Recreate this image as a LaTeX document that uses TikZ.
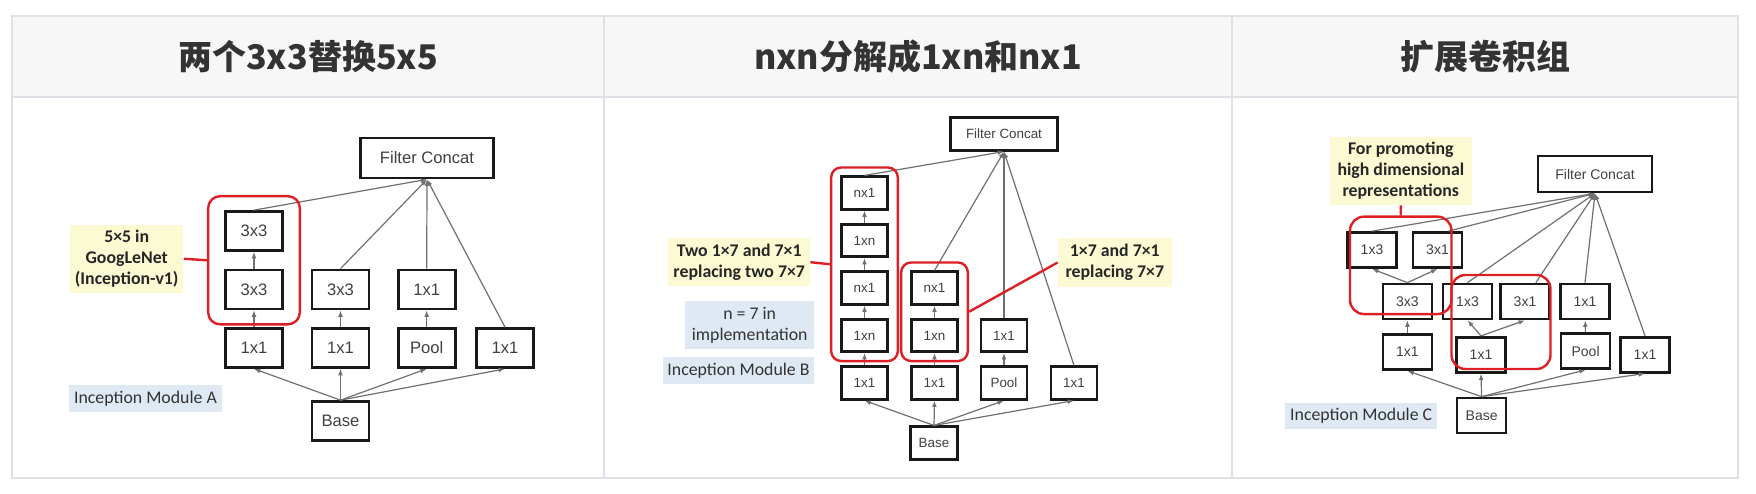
\documentclass[tikz,border=0pt]{standalone}
\usepackage{fontspec}
\usepackage{xcolor}
\usetikzlibrary{arrows.meta,fit,positioning}
\newfontfamily\cjk{Noto Sans CJK SC}
\newfontfamily\arial{Liberation Sans}
\newfontfamily\calib{Carlito}
\definecolor{rulegray}{HTML}{DEE2E6}
\definecolor{headbg}{HTML}{F7F7F7}
\definecolor{titlegray}{HTML}{333333}
\definecolor{hl}{HTML}{DD2025}
\definecolor{notey}{HTML}{FCFAD2}
\definecolor{noteb}{HTML}{DFE9F4}
\definecolor{wiregray}{HTML}{707070}
\tikzset{
  blk/.style={draw=black!90,line width=1.35pt,fill=white,inner sep=0pt,text=black!75},
  wire/.style={->,draw=wiregray,line width=0.6pt},
  grp/.style={draw=hl,line width=1.2pt,rounded corners=6pt},
  lead/.style={draw=hl,line width=1.2pt},
  note/.style={fill=notey,inner sep=0pt,align=center,text=black!85,font=\calib\bfseries\fontsize{8.9}{10.5}\selectfont},
  tag/.style={fill=noteb,inner sep=0pt,align=center,text=black!80,font=\calib\fontsize{8.9}{10.5}\selectfont},
  ttl/.style={text=titlegray,font=\cjk\bfseries\fontsize{17}{20}\selectfont}
}

\begin{document}
\begin{tikzpicture}[x=0.5pt,y=-0.5pt,>={Latex[length=3.2pt,width=2.4pt]}]
  \useasboundingbox (0,0) rectangle (1756,493);
  \fill[white] (0,0) rectangle (1756,493);
  \fill[headbg] (12,16) rectangle (1738,97);
  \draw[rulegray,line width=1pt] (12,16) rectangle (1738,478);
  \draw[rulegray,line width=1pt] (12,97) -- (1738,97) (604,16) -- (604,478) (1232,16) -- (1232,478);

  \node[ttl] (tA) at (308,57) {两个3x3替换5x5};
  \node[ttl] (tB) at (918,57) {nxn分解成1xn和nx1};
  \node[ttl] (tC) at (1485,57) {扩展卷积组};

  % module A
  \begin{scope}[blk/.append style={minimum width=28.5pt,minimum height=19.5pt,font=\arial\fontsize{8.3}{10}\selectfont}]
    \node[blk,minimum width=66.5pt,minimum height=20pt] (fcA) at (427,158) {Filter Concat};
    \node[blk] (a3t) at (254,231) {3x3};
    \node[blk] (a3b) at (254,289.5) {3x3};
    \node[blk] (a3m) at (340.5,289.5) {3x3};
    \node[blk] (a1p) at (426.7,289.5) {1x1};
    \node[blk] (a1a) at (254,348) {1x1};
    \node[blk] (a1b) at (340.5,348) {1x1};
    \node[blk] (apl) at (426.7,348) {Pool};
    \node[blk] (a1d) at (505,348) {1x1};
    \node[blk] (baseA) at (340.5,421) {Base};
  \end{scope}
  \foreach \n in {a3t,a3m,a1p,a1d}
    \draw[wire] (\n.north) -- (fcA.south);
  \draw[wire] (a3b) -- (a3t);
  \draw[wire] (a1a) -- (a3b);
  \draw[wire] (a1b) -- (a3m);
  \draw[wire] (apl) -- (a1p);
  \foreach \n in {a1a,a1b,apl,a1d}
    \draw[wire] (baseA.north) -- (\n.south);
  \node[grp,fit=(a3t)(a3b),inner xsep=8pt,inner ysep=7pt] (gA) {};
  \node[note,minimum width=56.7pt,minimum height=33.8pt] (nA) at (126.7,258.8) {5×5 in\\GoogLeNet\\(Inception-v1)};
  \draw[lead] (nA.east) -- (gA.west);
  \node[tag,minimum width=76.2pt,minimum height=13.3pt] (mA) at (145.5,398.3) {Inception Module A};

  % module B
  \begin{scope}[blk/.append style={minimum width=23pt,minimum height=16.2pt,font=\arial\fontsize{6.7}{8}\selectfont}]
    \node[blk,minimum width=53.5pt,minimum height=16.5pt] (fcB) at (1004,133.7) {Filter Concat};
    \node[blk] (bl1) at (864.5,193) {nx1};
    \node[blk] (bl2) at (864.5,240.5) {1xn};
    \node[blk] (bl3) at (864.5,288) {nx1};
    \node[blk] (bl4) at (864.5,335.5) {1xn};
    \node[blk] (bl5) at (864.5,383) {1x1};
    \node[blk] (bm1) at (934.5,288) {nx1};
    \node[blk] (bm2) at (934.5,335.5) {1xn};
    \node[blk] (bm3) at (934.5,383) {1x1};
    \node[blk] (bp1) at (1004,335.5) {1x1};
    \node[blk] (bpl) at (1004,383) {Pool};
    \node[blk] (br) at (1074,383) {1x1};
    \node[blk,minimum width=23.5pt] (baseB) at (934,443) {Base};
  \end{scope}
  \foreach \n in {bl1,bm1,bp1,br}
    \draw[wire] (\n.north) -- (fcB.south);
  \draw[wire] (bl5) -- (bl4);
  \draw[wire] (bl4) -- (bl3);
  \draw[wire] (bl3) -- (bl2);
  \draw[wire] (bl2) -- (bl1);
  \draw[wire] (bm3) -- (bm2);
  \draw[wire] (bm2) -- (bm1);
  \draw[wire] (bpl) -- (bp1);
  \foreach \n in {bl5,bm3,bpl,br}
    \draw[wire] (baseB.north) -- (\n.south);
  \node[grp,rounded corners=5pt,fit=(bl1)(bl4),inner xsep=4.5pt,inner ysep=4pt] (gB1) {};
  \node[grp,rounded corners=5pt,fit=(bm1)(bm2),inner xsep=4.5pt,inner ysep=4pt] (gB2) {};
  \node[note,minimum width=70.8pt,minimum height=23.8pt] (nBl) at (739.2,262.2) {Two 1×7 and 7×1\\replacing two 7×7};
  \node[note,minimum width=56.8pt,minimum height=24.5pt] (nBr) at (1114.8,262.5) {1×7 and 7×1\\replacing 7×7};
  \draw[lead] (nBl.east) -- (gB1.west);
  \draw[lead] (gB2.east) -- (nBr.west);
  \node[tag,minimum width=64.7pt,minimum height=24.2pt] (nimpl) at (749.7,325.2) {n = 7 in\\implementation};
  \node[tag,minimum width=75.8pt,minimum height=13.7pt] (mB) at (738.5,370.3) {Inception Module B};

  % module C
  \begin{scope}[blk/.append style={minimum width=24.5pt,minimum height=17.5pt,font=\arial\fontsize{7}{8.4}\selectfont}]
    \node[blk,minimum width=57pt,minimum height=18pt] (fcC) at (1595,174) {Filter Concat};
    \node[blk] (c13t) at (1372,250) {1x3};
    \node[blk] (c31t) at (1437.5,250) {3x1};
    \node[blk] (c33) at (1407.4,301.5) {3x3};
    \node[blk] (c13m) at (1467.5,301.5) {1x3};
    \node[blk] (c31m) at (1525,301.5) {3x1};
    \node[blk] (c11m) at (1585,301.5) {1x1};
    \node[blk] (c11a) at (1407.4,352) {1x1};
    \node[blk] (c11b) at (1481,354.7) {1x1};
    \node[blk] (cpl) at (1585.6,351) {Pool};
    \node[blk] (c11d) at (1645,354.7) {1x1};
    \node[blk] (baseC) at (1481.6,415.5) {Base};
  \end{scope}
  \foreach \n in {c13t.north,c31t.60,c13m.north,c31m.60,c11m.north,c11d.north}
    \draw[wire] (\n) -- (fcC.south);
  \draw[wire] (c33.north) -- (c13t.south);
  \draw[wire] (c33.north) -- (c31t.south);
  \draw[wire] (c11a) -- (c33);
  \draw[wire] (c11b.north) -- (c13m.south);
  \draw[wire] (c11b.north) -- (c31m.south);
  \draw[wire] (cpl) -- (c11m);
  \foreach \n in {c11a,c11b,cpl,c11d}
    \draw[wire] (baseC.north) -- (\n.south);
  \node[grp,rounded corners=7pt,inner sep=0pt,minimum width=50.75pt,minimum height=48.7pt] (gC1) at (1400.75,265.35) {};
  \node[grp,rounded corners=7pt,inner sep=0pt,minimum width=49.5pt,minimum height=47pt] (gC2) at (1501,322) {};
  \node[note,minimum width=70.8pt,minimum height=34.2pt] (nC) at (1400.8,170.8) {For promoting\\high dimensional\\representations};
  \draw[lead] (nC.south) -- (gC1.north);
  \node[tag,minimum width=75.8pt,minimum height=13.2pt] (mC) at (1361.2,415.8) {Inception Module C};
\end{tikzpicture}
\end{document}
